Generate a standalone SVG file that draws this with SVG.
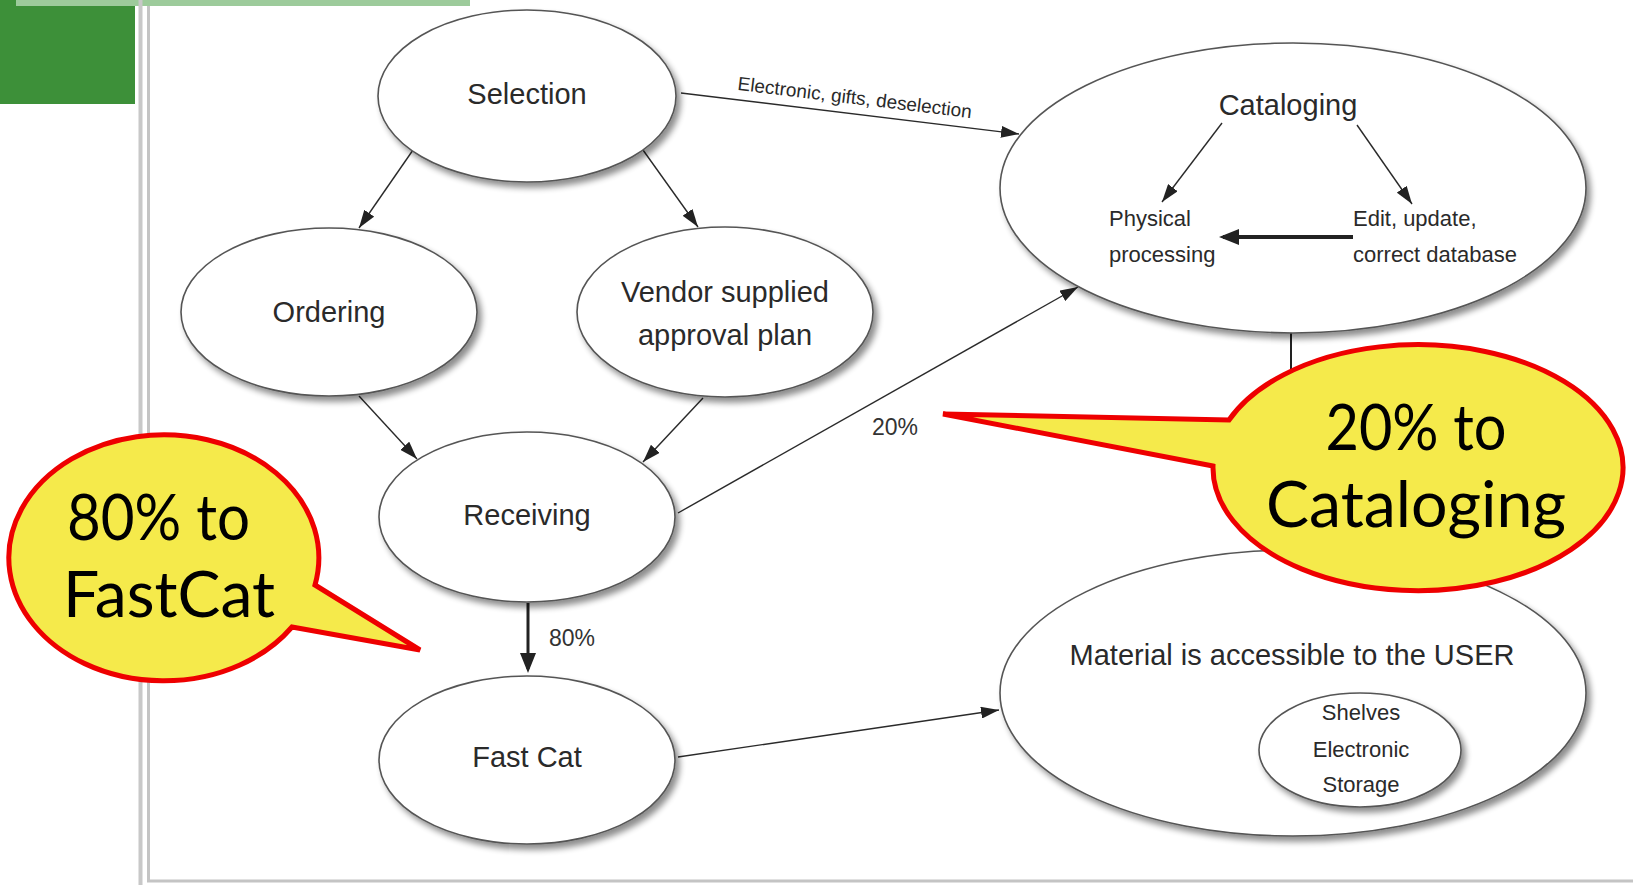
<svg xmlns="http://www.w3.org/2000/svg" width="1633" height="885" viewBox="0 0 1633 885">
<style>
.node{fill:#fff;stroke:#555;stroke-width:1.6;filter:url(#sh)}
.lbl{font-family:"Liberation Sans",Arial,sans-serif;fill:#2a2a2a;font-size:29px;text-anchor:middle}
.sm{font-family:"Liberation Sans",Arial,sans-serif;fill:#2a2a2a;font-size:22px}
.pct{font-family:"Liberation Sans",Arial,sans-serif;fill:#333;font-size:23px}
.edge{stroke:#2a2a2a;stroke-width:1.4;fill:none;marker-end:url(#ah)}
.thick{stroke:#222;fill:none;marker-end:url(#ahk)}
.bubble{fill:#f5ea4b;stroke:#ee0000;stroke-width:5;stroke-linejoin:miter}
.big{font-family:Lato,"Open Sans",sans-serif;font-size:63px;fill:#000}
</style>
<defs>
<filter id="sh" x="-10%" y="-10%" width="125%" height="130%">
<feGaussianBlur in="SourceAlpha" stdDeviation="3"/>
<feOffset dx="4" dy="5" result="b"/>
<feComponentTransfer><feFuncA type="linear" slope="0.45"/></feComponentTransfer>
<feMerge><feMergeNode/><feMergeNode in="SourceGraphic"/></feMerge>
</filter>
<marker id="ah" viewBox="0 0 18 12" refX="18" refY="6" markerWidth="18" markerHeight="12" markerUnits="userSpaceOnUse" orient="auto">
<path d="M0,0 L18,6 L0,12 z" fill="#222"/>
</marker>
<marker id="ahk" viewBox="0 0 20 16" refX="16" refY="8" markerWidth="20" markerHeight="16" markerUnits="userSpaceOnUse" orient="auto">
<path d="M0,0 L20,8 L0,16 z" fill="#222"/>
</marker>
</defs>
<rect width="1633" height="885" fill="#fff"/>
<g id="decor">
<rect x="0" y="0" width="135" height="104" fill="#3d9039"/>
<rect x="16" y="0" width="454" height="6" fill="#9dcb9b"/>
<line x1="140.5" y1="0" x2="140.5" y2="885" stroke="#c8c8c8" stroke-width="4"/>
<line x1="148.5" y1="6" x2="148.5" y2="881" stroke="#c4c4c4" stroke-width="3"/>
<line x1="147" y1="881" x2="1633" y2="881" stroke="#c4c4c4" stroke-width="3"/>
</g>
<g id="connectors">
<line class="edge" x1="681" y1="93" x2="1019" y2="134"/>
<text class="sm" style="font-size:19px" x="854" y="104" text-anchor="middle" transform="rotate(6.9 854 104)">Electronic, gifts, deselection</text>
<line class="edge" x1="413" y1="150" x2="359" y2="228"/>
<line class="edge" x1="643" y1="150" x2="698" y2="227"/>
<line class="edge" x1="359" y1="396" x2="417" y2="459"/>
<line class="edge" x1="703" y1="398" x2="643" y2="462"/>
<line class="edge" x1="678" y1="513" x2="1078" y2="287"/>
<line class="thick" stroke-width="3" x1="528" y1="603" x2="528" y2="669"/>
<line class="edge" x1="678" y1="757" x2="999" y2="710"/>
<line x1="1291" y1="333" x2="1291" y2="420" stroke="#222" stroke-width="2"/>
<text class="pct" x="549" y="646">80%</text>
<text class="pct" x="872" y="435">20%</text>
</g>
<g id="selection"><ellipse class="node" cx="527" cy="96" rx="149" ry="86"/><text class="lbl" x="527" y="104">Selection</text></g>
<g id="ordering"><ellipse class="node" cx="329" cy="312" rx="148" ry="84"/><text class="lbl" x="329" y="322">Ordering</text></g>
<g id="vendor"><ellipse class="node" cx="725" cy="312" rx="148" ry="85"/><text class="lbl" x="725" y="302">Vendor supplied</text><text class="lbl" x="725" y="345">approval plan</text></g>
<g id="receiving"><ellipse class="node" cx="527" cy="517" rx="148" ry="85"/><text class="lbl" x="527" y="525">Receiving</text></g>
<g id="fastcat"><ellipse class="node" cx="527" cy="760" rx="148" ry="84"/><text class="lbl" x="527" y="767">Fast Cat</text></g>
<g id="cataloging">
<ellipse class="node" cx="1293" cy="188" rx="293" ry="145"/>
<text class="lbl" x="1288" y="115">Cataloging</text>
<text class="sm" x="1109" y="226">Physical</text>
<text class="sm" x="1109" y="262">processing</text>
<text class="sm" x="1353" y="226">Edit, update,</text>
<text class="sm" x="1353" y="262">correct database</text>
<line class="edge" x1="1222" y1="123" x2="1162" y2="202"/>
<line class="edge" x1="1357" y1="125" x2="1412" y2="204"/>
<line class="thick" stroke-width="4" x1="1353" y1="237" x2="1223" y2="237"/>
</g>
<g id="material">
<ellipse class="node" cx="1293" cy="693" rx="293" ry="143"/>
<text class="lbl" x="1292" y="665">Material is accessible to the USER</text>
<ellipse class="node" cx="1360" cy="750" rx="101" ry="57"/>
<text class="sm" x="1361" y="720" text-anchor="middle">Shelves</text>
<text class="sm" x="1361" y="757" text-anchor="middle">Electronic</text>
<text class="sm" x="1361" y="792" text-anchor="middle">Storage</text>
</g>
<g id="callout-80">
<path class="bubble" d="M315,585 L420,650 L292,627 A155 123 0 1 1 315,585 Z"/>
<text class="big" x="67" y="540" textLength="183" lengthAdjust="spacingAndGlyphs">80% to</text>
<text class="big" x="63" y="617" textLength="212" lengthAdjust="spacingAndGlyphs">FastCat</text>
</g>
<g id="callout-20">
<path class="bubble" d="M1213,466 L943,414 L1229,420 A205 123 0 1 1 1213,466 Z"/>
<text class="big" x="1416" y="450" text-anchor="middle" textLength="181" lengthAdjust="spacingAndGlyphs">20% to</text>
<text class="big" x="1416" y="527" text-anchor="middle" textLength="300" lengthAdjust="spacingAndGlyphs">Cataloging</text>
</g>
</svg>
